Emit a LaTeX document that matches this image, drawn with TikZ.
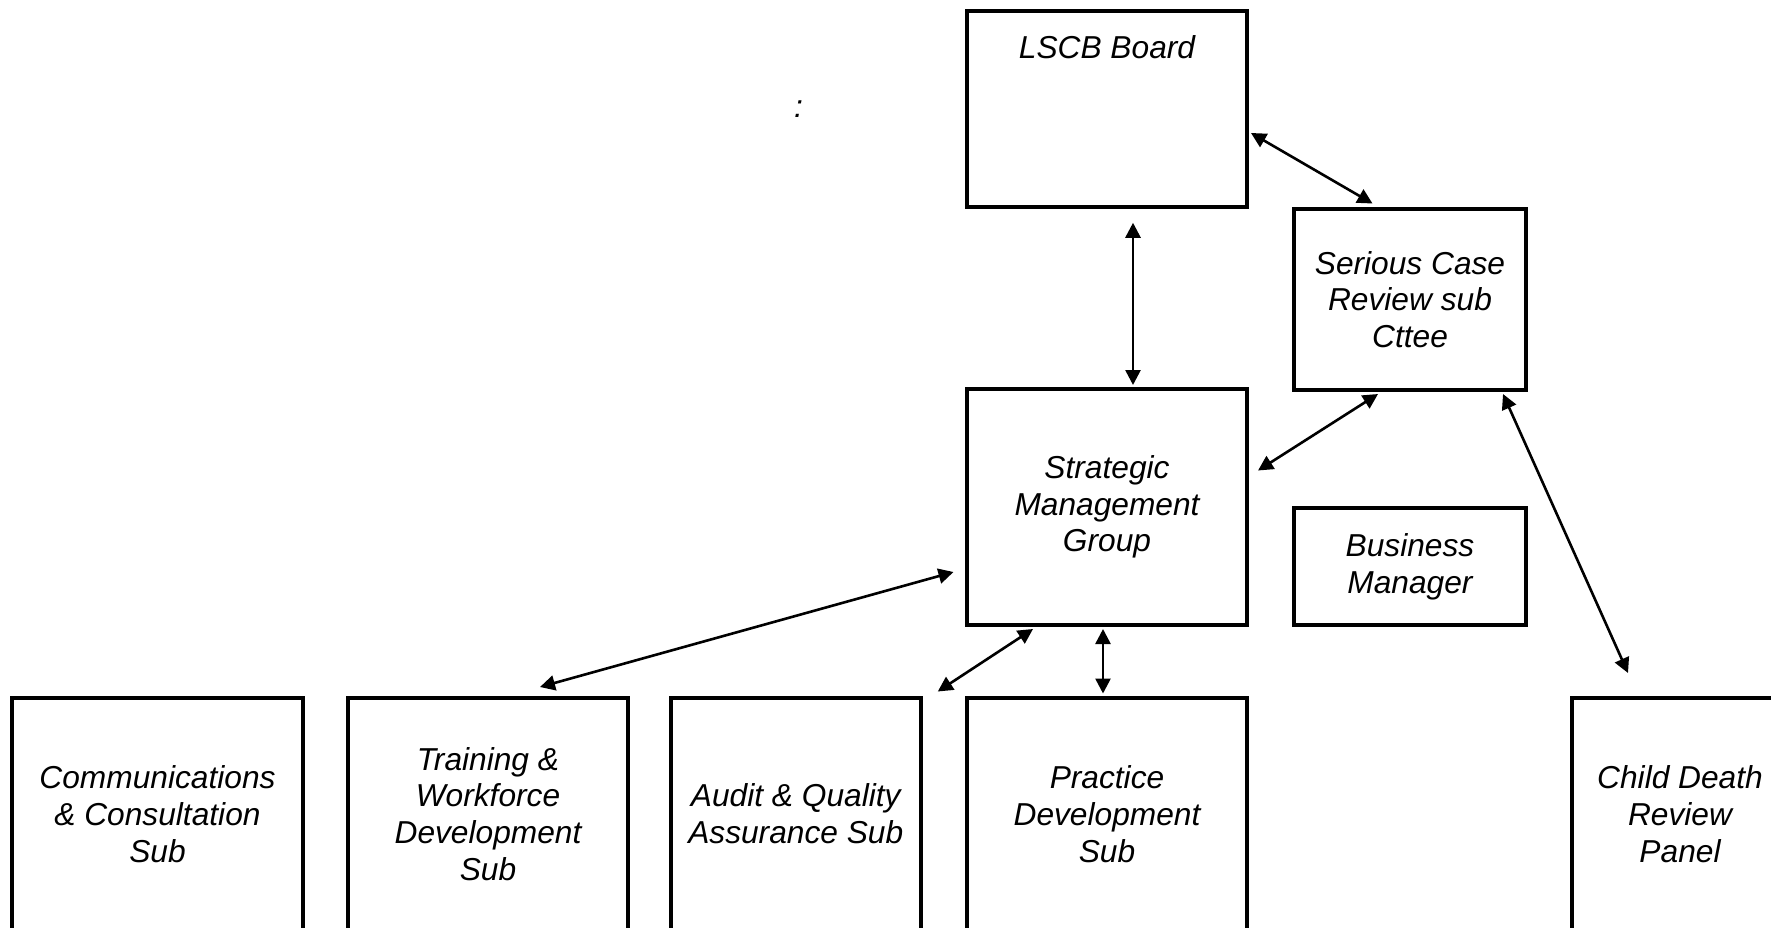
\documentclass[tikz,border=0pt]{standalone}
\usepackage{fontspec}
\setmainfont{Liberation Sans}
\usetikzlibrary{arrows.meta,calc}
\begin{document}
\begin{tikzpicture}[x=1pt,y=-1pt,
  txt/.style={font=\itshape\fontsize{31.7}{36.7}\selectfont},
  box/.style={txt, draw, line width=4pt, inner sep=0pt, align=center},
  link/.style={line width=2.6pt, {Triangle[length=15pt,width=15pt]}-{Triangle[length=15pt,width=15pt]}}]
\useasboundingbox (0,0) rectangle (1771,927);
\clip (0,0) rectangle (1771,927);
% top boxes
\node[box, minimum width=280pt, text height=47.5pt, text depth=149pt] (lscb) at (1107,109) {LSCB Board};
\node[box, minimum width=232pt, minimum height=181pt] (serious) at (1410,299.5) {Serious Case\\Review sub\\Cttee};
\node[box, minimum width=280pt, minimum height=236pt] (strategic) at (1107,507) {Strategic\\Management\\Group};
\node[box, minimum width=232pt, minimum height=117pt] (business) at (1410,566.5) {Business\\Manager};
% bottom row
\node[box, minimum width=291pt, minimum height=232pt] (comm) at (157.5,814) {Communications\\\& Consultation\\Sub};
\node[box, minimum width=280pt, minimum height=232pt] (training) at (488,814) {Training \&\\Workforce\\Development\\Sub};
\node[box, minimum width=249.5pt, minimum height=232pt] (audit) at (795.75,814) {Audit \& Quality\\Assurance Sub};
\node[box, minimum width=280pt, minimum height=232pt] (practice) at (1107,814) {Practice\\Development\\Sub};
\node[box, minimum width=216pt, minimum height=232pt] (child) at (1680,814) {Child Death\\Review\\Panel};
% stray colon
\node[txt, inner sep=0pt] (colon) at (798.5,109.5) {:};
% connectors
\draw[link] ($(lscb.south)+(26,13.5)$) -- ($(strategic.north)+(26,-2)$);
\draw[link] ($(lscb.east)+(2,24)$) -- ($(serious.north)+(-37.5,-3.5)$);
\draw[link] ($(serious.south)+(-32,2)$) -- ($(strategic.east)+(9,-36.5)$);
\draw[link] ($(serious.south)+(93,2)$) -- ($(child.north)+(-52,-23)$);
\draw[link] ($(strategic.west)+(-11.5,65)$) -- ($(training.north)+(52,-9)$);
\draw[link] ($(strategic.south)+(-74,2)$) -- ($(audit.north)+(142,-4.5)$);
\draw[link] ($(strategic.south)+(-4,2)$) -- ($(practice.north)+(-4,-2.5)$);
\end{tikzpicture}
\end{document}
